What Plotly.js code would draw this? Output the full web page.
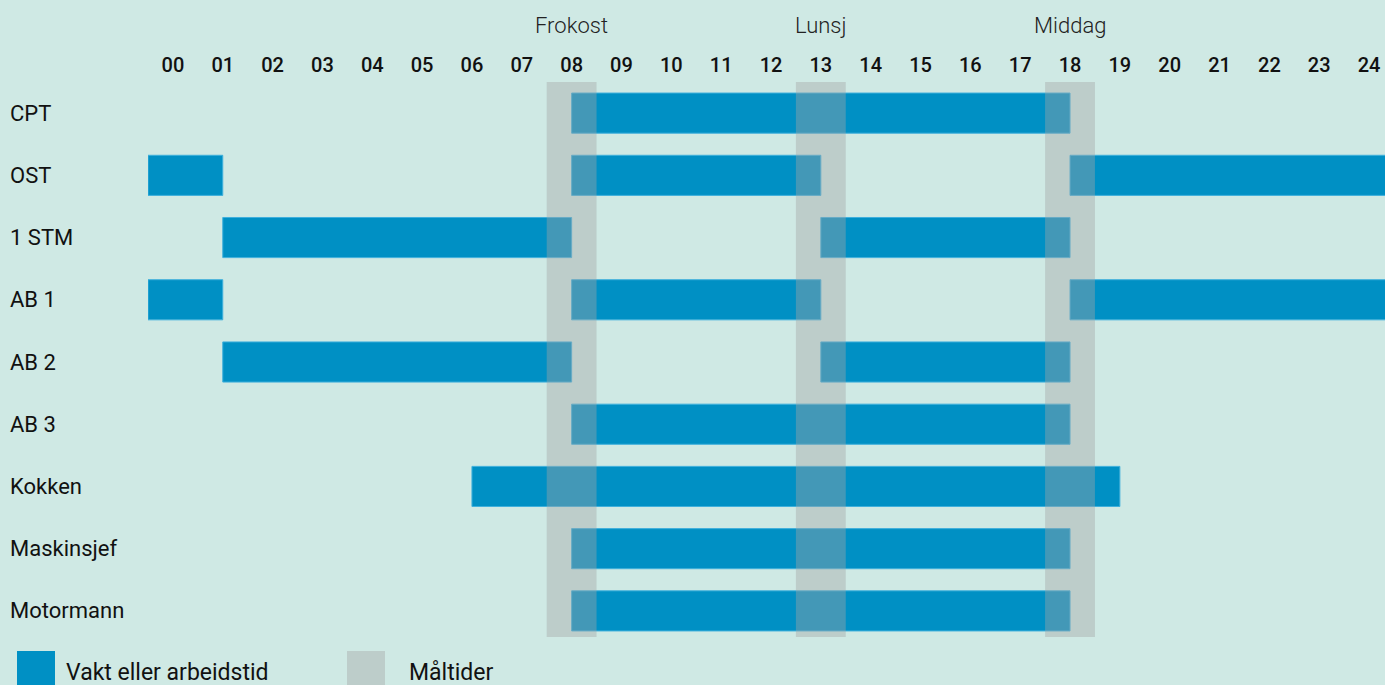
<!DOCTYPE html>
<html>
<head>
<meta charset="utf-8">
<script src="https://cdn.plot.ly/plotly-3.0.1.min.js"></script>
<style>
html,body{margin:0;padding:0;background:#cfe9e4;}
#chart{width:1385px;height:685px;}
</style>
</head>
<body>
<div id="chart"></div>
<script>
// ---- data ----
const categories = ["CPT","OST","1 STM","AB 1","AB 2","AB 3","Kokken","Maskinsjef","Motormann"];
const segCategory = ["CPT","OST","OST","OST","1 STM","1 STM","AB 1","AB 1","AB 1","AB 2","AB 2","AB 3","Kokken","Maskinsjef","Motormann"];
const segStart    = [8,   -0.5, 8,  18,   1,  13,  -0.5, 8,  18,   1,  13,  8,  6,  8,  8];
const segEnd      = [18,   1,  13,  24.5, 8,  18,   1,  13,  24.5, 8,  18, 18, 19, 18, 18];
const hourVals = [0,1,2,3,4,5,6,7,8,9,10,11,12,13,14,15,16,17,18,19,20,21,22,23,24];
const hourText = ["00","01","02","03","04","05","06","07","08","09","10","11","12","13","14","15","16","17","18","19","20","21","22","23","24"];
const mealNames = ["Frokost","Lunsj","Middag"];
const mealHours = [8,13,18];
const legendLabels = ["Vakt eller arbeidstid","Måltider"];

// ---- style ----
const BG = "#cfe9e4";
const BLUE = "#0090c4";
const MEALFILL = "rgb(163,164,166)";
const MEALOP = 0.41;
const FONT = "Roboto, 'Noto Sans', sans-serif";
const TXT = "#111111";

const W = 1385, H = 685, ML = 148, MT = 82, MB = 43;
const pw = W - ML, ph = H - MT - MB;
const px = v => (v - ML) / pw;            // pixel x -> paper
const py = v => (H - MB - v) / ph;        // pixel y -> paper

const trace = {
  type: "bar",
  orientation: "h",
  y: segCategory,
  base: segStart,
  x: segStart.map((s, i) => segEnd[i] - s),
  width: 0.645,
  marker: {color: BLUE, line: {color: "#3fb0dc", width: 1}},
  hoverinfo: "skip",
  showlegend: false,
  cliponaxis: true
};

const shapes = mealHours.map(h => ({
  type: "rect", xref: "x", yref: "y",
  x0: h - 0.5, x1: h + 0.5, y0: -0.5, y1: 8.42,
  fillcolor: MEALFILL, opacity: MEALOP, line: {width: 0}, layer: "above"
}));
// legend swatches
shapes.push({type: "rect", xref: "paper", yref: "paper",
  x0: px(17), x1: px(55), y0: py(651), y1: py(695),
  fillcolor: BLUE, line: {width: 0}, layer: "above"});
shapes.push({type: "rect", xref: "paper", yref: "paper",
  x0: px(347), x1: px(385), y0: py(651), y1: py(695),
  fillcolor: MEALFILL, opacity: MEALOP, line: {width: 0}, layer: "above"});

const annotations = [];
categories.forEach(c => annotations.push({
  xref: "paper", yref: "y", x: px(8), y: c, xanchor: "left", yanchor: "middle",
  text: c, showarrow: false, font: {family: FONT, size: 22, color: TXT}
}));
mealNames.forEach((m, i) => annotations.push({
  xref: "x", yref: "paper", x: mealHours[i], y: py(26), xanchor: "center", yanchor: "middle",
  text: m, showarrow: false, font: {family: FONT, size: 22, color: "#222", weight: 300}
}));
annotations.push({xref: "paper", yref: "paper", x: px(64), y: py(672), xanchor: "left", yanchor: "middle",
  text: legendLabels[0], showarrow: false, font: {family: FONT, size: 23, color: TXT}});
annotations.push({xref: "paper", yref: "paper", x: px(407), y: py(672), xanchor: "left", yanchor: "middle",
  text: legendLabels[1], showarrow: false, font: {family: FONT, size: 23, color: TXT}});

const layout = {
  width: W, height: H,
  margin: {l: ML, r: 0, t: MT, b: MB, pad: 0},
  paper_bgcolor: BG, plot_bgcolor: BG,
  showlegend: false,
  xaxis: {
    range: [-0.5, 24.32], side: "top", tickmode: "array", tickvals: hourVals, ticktext: hourText,
    showgrid: false, zeroline: false, showline: false, ticks: "", ticklabelstandoff: 5,
    tickfont: {family: FONT, size: 20, color: TXT, weight: 500}, fixedrange: true
  },
  yaxis: {
    type: "category", categoryorder: "array", categoryarray: categories,
    range: [8.5, -0.5], autorange: false,
    showticklabels: false, showgrid: false, zeroline: false, showline: false, ticks: "", fixedrange: true
  },
  shapes: shapes,
  annotations: annotations
};

Plotly.newPlot("chart", [trace], layout, {displayModeBar: false, staticPlot: true});
</script>
</body>
</html>
